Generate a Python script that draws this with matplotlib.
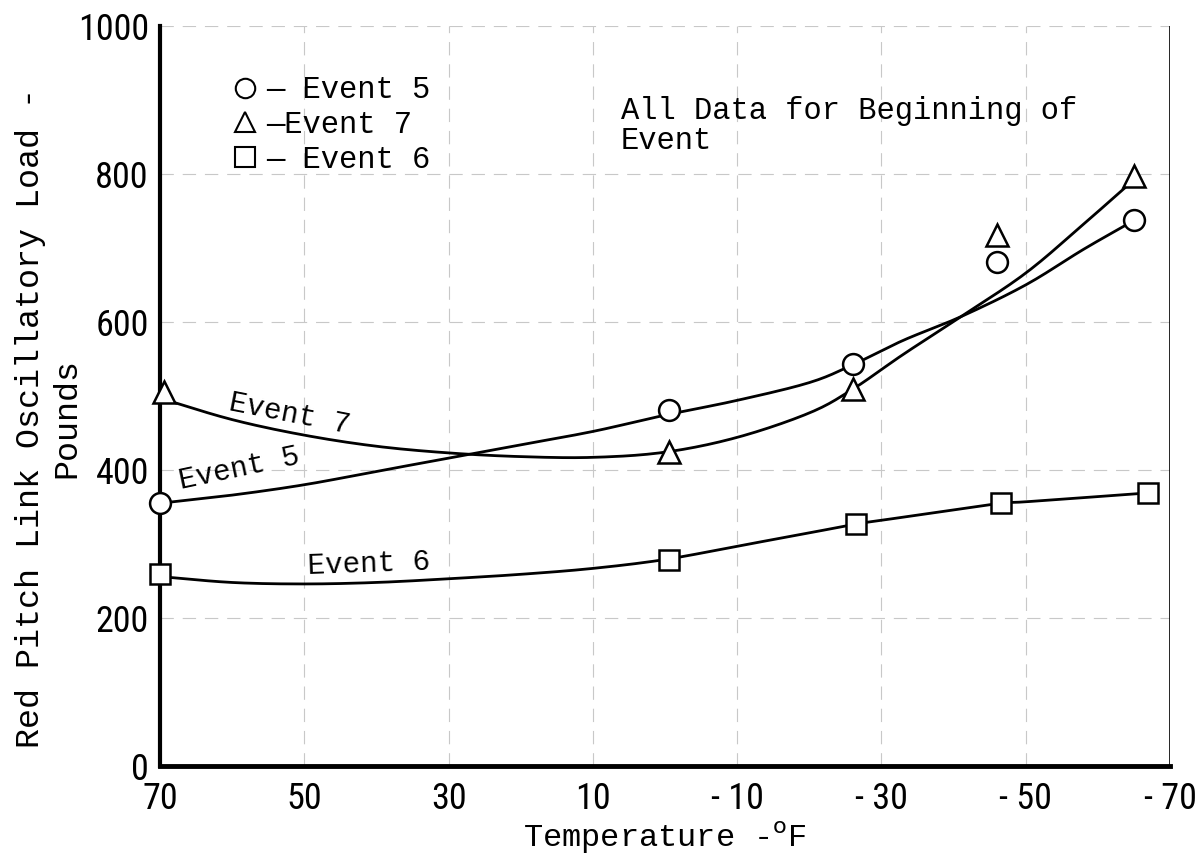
import numpy as np
import matplotlib
matplotlib.use("Agg")
from matplotlib import pyplot as plt
from matplotlib.lines import Line2D

# measured points (temperature F, load lb)
e5_temp = [70, -0.5, -26, -46, -65]
e5_load = [356, 481, 543, 681, 737]
e7_temp = [69.5, -0.5, -26, -46, -65]
e7_load = [505, 424, 509, 717, 797]
e6_temp = [70, -0.5, -26.5, -46.5, -67]
e6_load = [259, 279, 327, 355, 369]

# faired curves
e5_curve_temp = [70, 60, 50, 40, 30, 20, 10, 0, -10, -20, -26, -33, -41, -50, -58, -65]
e5_curve = [355, 366, 380, 398, 416, 434, 452, 474, 494, 518, 542, 575, 607, 650, 698, 737]
e7_curve_temp = [70, 60, 50, 40, 30, 20, 10, 0, -10, -20, -26, -33, -41, -50, -58, -65]
e7_curve = [497, 468, 447, 432, 423, 418, 417, 424, 444, 477, 509, 556, 607, 666, 732, 792]
e6_curve_temp = [70, 60, 50, 40, 30, 20, 10, 0, -10, -20, -26.5, -30, -40, -46.5, -50, -60, -67]
e6_curve = [256, 248, 246, 248, 253, 259, 267, 279, 297, 315, 327, 332, 346, 355, 357, 364, 369]

xticks = [70, 50, 30, 10, -10, -30, -50, -70]
xtick_labels = ["70", "50", "30", "10", "- 10", "- 30", "- 50", "- 70"]
yticks = [0, 200, 400, 600, 800, 1000]


def smooth(xs, ys, n=12):
    # catmull-rom through the read points, just for drawing
    x = np.array(xs, float)
    y = np.array(ys, float)
    px = np.concatenate([[2*x[0]-x[1]], x, [2*x[-1]-x[-2]]])
    py = np.concatenate([[2*y[0]-y[1]], y, [2*y[-1]-y[-2]]])
    outx, outy = [], []
    t = np.linspace(0, 1, n, endpoint=False)
    for i in range(1, len(px)-2):
        for arr, out in ((px, outx), (py, outy)):
            p0, p1, p2, p3 = arr[i-1], arr[i], arr[i+1], arr[i+2]
            out.extend(0.5*((2*p1) + (-p0+p2)*t + (2*p0-5*p1+4*p2-p3)*t**2 + (-p0+3*p1-3*p2+p3)*t**3))
    outx.append(x[-1]); outy.append(y[-1])
    return outx, outy


mono = "Liberation Mono"
num_font = ["Liberation Sans Narrow", "Roboto Condensed", "Liberation Sans", "DejaVu Sans"]

fig = plt.figure(figsize=(11.99, 8.59), dpi=100)
ax = fig.add_axes([0.1334, 0.1082, 0.8425, 0.8618])

ax.set_xlim(70, -70)
ax.set_ylim(0, 1000)

ax.grid(True, color="#c8c8c8", lw=0.8, ls=(0, (12, 8)))
ax.set_axisbelow(True)

for xs, ys in ((e5_curve_temp, e5_curve), (e7_curve_temp, e7_curve), (e6_curve_temp, e6_curve)):
    sx, sy = smooth(xs, ys)
    ax.plot(sx, sy, color="black", lw=2.0, zorder=3)

mk = dict(linestyle="none", mfc="white", mec="black", mew=1.8, zorder=4, clip_on=False)
ax.plot(e5_temp, e5_load, marker="o", ms=15, **mk)
ax.plot(e7_temp, e7_load, marker="^", ms=16, **mk)
ax.plot(e6_temp, e6_load, marker="s", ms=15, **mk)

for s in ["top", "right"]:
    ax.spines[s].set_visible(False)
ax.spines["left"].set_linewidth(3)
ax.spines["bottom"].set_linewidth(3.5)
ax.axvline(-70, color="black", lw=1.2, zorder=2)

ax.set_xticks(xticks)
ax.set_xticklabels(xtick_labels)
ax.set_yticks(yticks)
ax.tick_params(axis="y", length=0, pad=8)
ax.tick_params(axis="x", length=0, pad=11)
for lab in ax.get_xticklabels() + ax.get_yticklabels():
    lab.set_family(num_font)
    lab.set_fontsize(26)

ax.set_xlabel("Temperature -$^{\\mathrm{o}}$F", family=mono, fontsize=23, labelpad=2)
ax.set_ylabel("Red Pitch Link Oscillatory Load -\nPounds", family=mono, fontsize=24,
              linespacing=1.2)
ax.yaxis.set_label_coords(-0.077, 0.47)

handles = [
    Line2D([], [], marker="o", ls="none", ms=14, mfc="white", mec="black", mew=1.5),
    Line2D([], [], marker="^", ls="none", ms=15, mfc="white", mec="black", mew=1.5),
    Line2D([], [], marker="s", ls="none", ms=14, mfc="white", mec="black", mew=1.5),
]
ax.legend(handles, ["\u2014 Event 5", "\u2014Event 7", "\u2014 Event 6"], loc="upper left",
          bbox_to_anchor=(0.045, 0.97), frameon=False, handlelength=0.8, handletextpad=0.3,
          labelspacing=0.15, prop={"family": mono, "size": 22})

ax.text(0.456, 0.905, "All Data for Beginning of\nEvent", transform=ax.transAxes,
        family=mono, fontsize=22, va="top", ha="left", linespacing=1.0)

ax.text(52, 476, "Event 7", family=mono, fontsize=21, rotation=-11, ha="center", va="center")
ax.text(59, 402, "Event 5", family=mono, fontsize=21, rotation=12, ha="center", va="center")
ax.text(41, 273, "Event 6", family=mono, fontsize=21, rotation=2, ha="center", va="center")

fig.savefig("out.png", dpi=100)
